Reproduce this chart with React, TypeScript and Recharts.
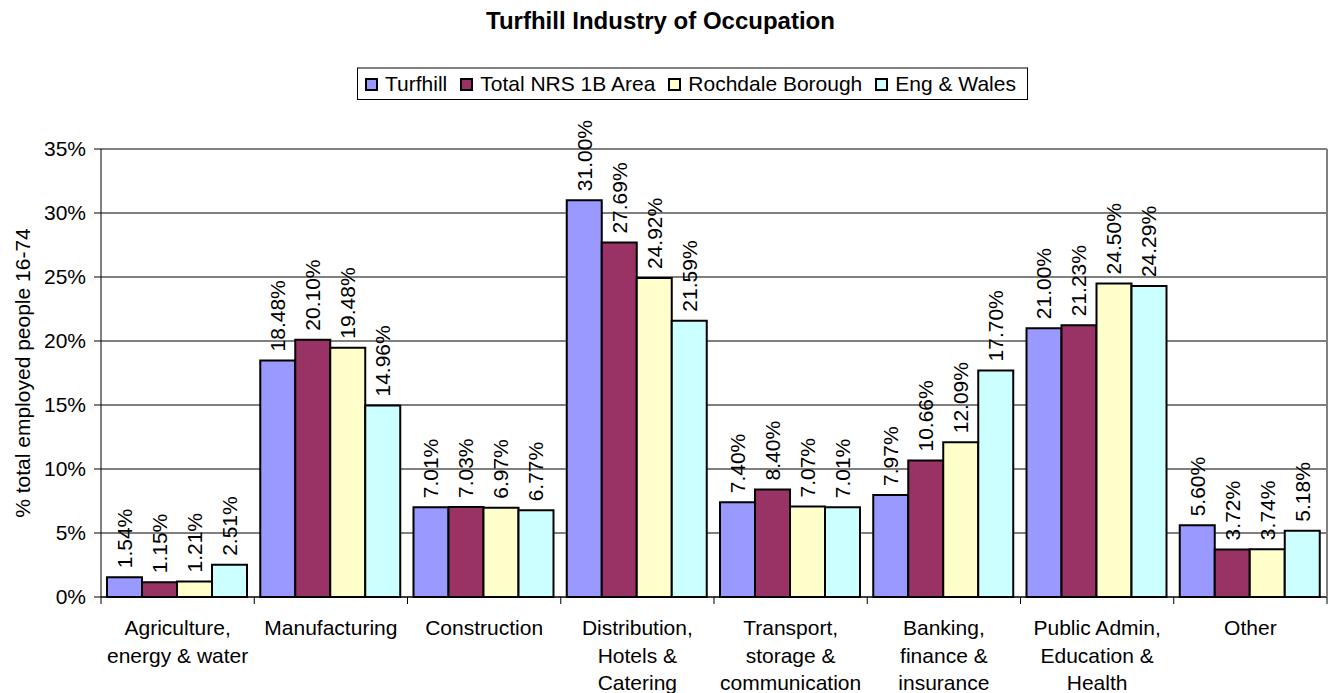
import React from 'react';
import { BarChart, Bar, XAxis, YAxis, CartesianGrid, LabelList, ReferenceLine, Legend } from 'recharts';

const CATEGORIES = [
  'Agriculture,\nenergy & water',
  'Manufacturing',
  'Construction',
  'Distribution,\nHotels &\nCatering',
  'Transport,\nstorage &\ncommunication',
  'Banking,\nfinance &\ninsurance',
  'Public Admin,\nEducation &\nHealth',
  'Other',
];
const TURFHILL = [1.54, 18.48, 7.01, 31.0, 7.4, 7.97, 21.0, 5.6];
const TOTAL_NRS = [1.15, 20.1, 7.03, 27.69, 8.4, 10.66, 21.23, 3.72];
const ROCHDALE = [1.21, 19.48, 6.97, 24.92, 7.07, 12.09, 24.5, 3.74];
const ENG_WALES = [2.51, 14.96, 6.77, 21.59, 7.01, 17.7, 24.29, 5.18];
const Y_TICKS = [0, 5, 10, 15, 20, 25, 30, 35];
const TITLE = 'Turfhill Industry of Occupation';
const Y_LABEL = '% total employed people 16-74';

const SERIES = [
  { key: 'turfhill', name: 'Turfhill', color: '#9999FF', values: TURFHILL },
  { key: 'nrs', name: 'Total NRS 1B Area', color: '#993366', values: TOTAL_NRS },
  { key: 'rochdale', name: 'Rochdale Borough', color: '#FFFFCC', values: ROCHDALE },
  { key: 'eng', name: 'Eng & Wales', color: '#CCFFFF', values: ENG_WALES },
];

const data = CATEGORIES.map((c, i) => {
  const row: any = { category: c };
  SERIES.forEach((s) => (row[s.key] = s.values[i]));
  return row;
});

const FONT = '"Liberation Sans", Arial, sans-serif';
const W = 1328;
const H = 693;
const Y_AXIS_W = 101;
const X_AXIS_H = 96;
const TOP = 149;
const RIGHT_W = 1;
const PLOT_W = W - Y_AXIS_W - RIGHT_W;
const PLOT_H = H - TOP - X_AXIS_H;
const BAND = PLOT_W / CATEGORIES.length;

const XTick = (props: any) => {
  const { x, y, payload, index } = props;
  const lines = String(payload.value).split('\n');
  const axisY = y - 7;
  const half = BAND / 2;
  return (
    <g>
      <line x1={x - half} y1={axisY} x2={x - half} y2={axisY + 7} stroke="#000" strokeWidth={1} />
      {index === CATEGORIES.length - 1 && (
        <line x1={x + half} y1={axisY} x2={x + half} y2={axisY + 7} stroke="#000" strokeWidth={1} />
      )}
      <text x={x} y={y} textAnchor="middle" fontSize={21} fontFamily={FONT} fill="#000">
        {lines.map((l, i) => (
          <tspan key={i} x={x} y={y + 31 + i * 27.5}>
            {l}
          </tspan>
        ))}
      </text>
    </g>
  );
};

const ValueLabel = (props: any) => {
  const { x, y, width, value } = props;
  const cx = x + width / 2;
  const ty = y - 9;
  return (
    <text
      x={cx}
      y={ty}
      transform={`rotate(-90 ${cx} ${ty})`}
      textAnchor="start"
      dominantBaseline="central"
      fontSize={21}
      fontFamily={FONT}
      fill="#000"
    >
      {`${Number(value).toFixed(2)}%`}
    </text>
  );
};

const LegendContent = () => (
  <div
    style={{
      display: 'flex',
      alignItems: 'center',
      border: '1px solid #000',
      borderTop: '2px solid #808080',
      height: 33,
      boxSizing: 'border-box',
      paddingLeft: 7,
      fontSize: 21,
      fontFamily: FONT,
      color: '#000',
      background: '#fff',
      whiteSpace: 'nowrap',
    }}
  >
    {SERIES.map((s) => (
      <div key={s.key} style={{ display: 'flex', alignItems: 'center', marginRight: 13 }}>
        <span
          style={{
            display: 'inline-block',
            width: 13,
            height: 13,
            background: s.color,
            border: '2px solid #000',
            boxSizing: 'border-box',
            marginRight: 7,
          }}
        />
        <span>{s.name}</span>
      </div>
    ))}
  </div>
);

const YLabel = (props: any) => {
  const vb = props.viewBox || {};
  const cy = vb.height ? vb.y + vb.height / 2 : TOP + PLOT_H / 2;
  const cx = 22;
  return (
    <text
      x={cx}
      y={cy}
      transform={`rotate(-90 ${cx} ${cy})`}
      textAnchor="middle"
      dominantBaseline="central"
      fontSize={21}
      fontFamily={FONT}
      fill="#000"
    >
      {Y_LABEL}
    </text>
  );
};

export default function App() {
  return (
    <div style={{ position: 'absolute', left: 0, top: 0, width: W, height: H, background: '#fff', fontFamily: FONT }}>
      <div
        style={{
          position: 'absolute',
          left: 0,
          top: 9,
          width: 1321,
          textAlign: 'center',
          fontSize: 24,
          lineHeight: '24px',
          fontWeight: 'bold',
          color: '#000',
        }}
      >
        {TITLE}
      </div>
      <BarChart
        width={W}
        height={H}
        data={data}
        margin={{ top: TOP, right: 0, bottom: 0, left: 0 }}
        barCategoryGap={6}
        barGap={0}
      >
        <CartesianGrid horizontal vertical={false} stroke="#000" strokeWidth={1} />
        <XAxis
          dataKey="category"
          height={X_AXIS_H}
          interval={0}
          tickLine={false}
          tickSize={7}
          tickMargin={0}
          axisLine={{ stroke: '#000', strokeWidth: 1 }}
          tick={<XTick />}
        />
        <YAxis
          width={Y_AXIS_W}
          domain={[0, 35]}
          ticks={Y_TICKS}
          interval={0}
          tickFormatter={(v: number) => `${v}%`}
          tickSize={7}
          tickMargin={8}
          tickLine={{ stroke: '#000' }}
          axisLine={{ stroke: '#000', strokeWidth: 1 }}
          tick={{ fill: '#000', fontSize: 21, fontFamily: FONT }}
          label={{ value: Y_LABEL, content: <YLabel /> }}
        />
        <YAxis
          yAxisId="right"
          orientation="right"
          width={RIGHT_W}
          domain={[0, 35]}
          tick={false}
          tickLine={false}
          axisLine={{ stroke: '#808080', strokeWidth: 2 }}
        />
        <ReferenceLine y={35} stroke="#808080" strokeWidth={2} />
        <Legend
          layout="horizontal"
          verticalAlign="middle"
          align="center"
          wrapperStyle={{ position: 'absolute', top: 67, left: 357, width: 671, height: 33 }}
          content={<LegendContent />}
        />
        {SERIES.map((s) => (
          <Bar
            key={s.key}
            dataKey={s.key}
            name={s.name}
            fill={s.color}
            stroke="#000"
            strokeWidth={2}
            isAnimationActive={false}
          >
            <LabelList dataKey={s.key} content={<ValueLabel />} />
          </Bar>
        ))}
      </BarChart>
    </div>
  );
}
